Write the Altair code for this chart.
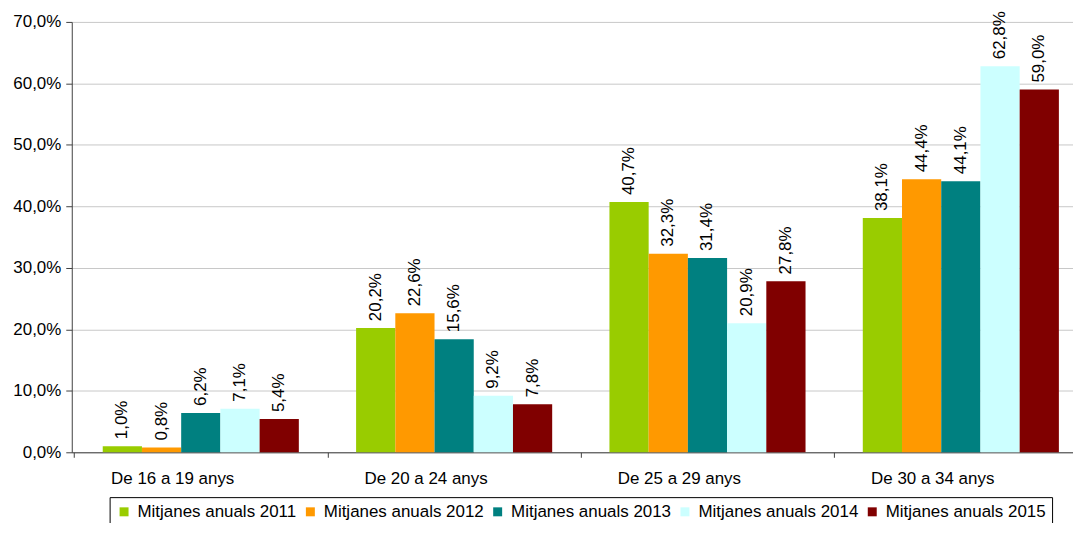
import altair as alt
import pandas as pd

categories = ["De 16 a 19 anys", "De 20 a 24 anys", "De 25 a 29 anys", "De 30 a 34 anys"]
series = ["Mitjanes anuals 2011", "Mitjanes anuals 2012", "Mitjanes anuals 2013",
          "Mitjanes anuals 2014", "Mitjanes anuals 2015"]
colors = ["#99CC00", "#FF9900", "#008080", "#CCFFFF", "#800000"]

# bar heights as drawn (percent)
v2011 = [1.0, 20.2, 40.7, 38.1]
v2012 = [0.8, 22.6, 32.3, 44.4]
v2013 = [6.4, 18.4, 31.6, 44.1]
v2014 = [7.1, 9.2, 21.0, 62.8]
v2015 = [5.4, 7.8, 27.8, 59.0]

# printed labels
l2011 = ["1,0%", "20,2%", "40,7%", "38,1%"]
l2012 = ["0,8%", "22,6%", "32,3%", "44,4%"]
l2013 = ["6,2%", "15,6%", "31,4%", "44,1%"]
l2014 = ["7,1%", "9,2%", "20,9%", "62,8%"]
l2015 = ["5,4%", "7,8%", "27,8%", "59,0%"]

vals = [v2011, v2012, v2013, v2014, v2015]
labs = [l2011, l2012, l2013, l2014, l2015]
rows = []
for s, vs, ls in zip(series, vals, labs):
    for c, v, l in zip(categories, vs, ls):
        rows.append({"cat": c, "serie": s, "val": v, "lab": l})
df = pd.DataFrame(rows)

FONT = "Liberation Sans"
FS = 17

x = alt.X("cat:N", sort=categories, title=None,
          scale=alt.Scale(paddingInner=0.226, paddingOuter=0.089, align=0.687),
          axis=alt.Axis(labelAngle=0, labelFontSize=FS, labelFont=FONT, labelColor="#000000",
                        domainColor="#404040", tickColor="#404040", tickSize=5,
                        bandPosition=0, tickOffset=-28.7, labelPadding=13, grid=False))
xo = alt.XOffset("serie:N", sort=series, scale=alt.Scale(paddingInner=0, paddingOuter=0))
y = alt.Y("val:Q", title=None, scale=alt.Scale(domain=[0, 70], nice=False),
          axis=alt.Axis(values=[0, 10, 20, 30, 40, 50, 60, 70],
                        labelExpr="replace(format(datum.value, '.1f'), '.', ',') + '%'",
                        labelFontSize=FS, labelFont=FONT, labelColor="#000000",
                        domainColor="#404040", tickColor="#404040", tickSize=6,
                        labelPadding=5, gridColor="#C8C8C8"))

bars = alt.Chart(df).mark_bar().encode(
    x=x, xOffset=xo, y=y,
    color=alt.Color("serie:N", sort=series,
                    scale=alt.Scale(domain=series, range=colors),
                    legend=alt.Legend(title=None, orient="none", legendX=38, legendY=477,
                                      direction="horizontal", symbolType="square",
                                      symbolSize=81, symbolStrokeWidth=0,
                                      labelFontSize=FS, labelFont=FONT, labelColor="#000000",
                                      labelLimit=400, labelOffset=5, columnPadding=5,
                                      padding=6, strokeColor="#000000")),
)

texts = alt.Chart(df).mark_text(angle=270, align="left", baseline="middle", dx=7,
                                fontSize=FS, font=FONT, color="#000000").encode(
    x=x, xOffset=xo, y=y, text="lab:N")

chart = alt.layer(bars, texts).properties(
    width=1005, height=432,
    autosize=alt.AutoSizeParams(type="none"),
    padding={"left": 64, "top": 13, "right": 0, "bottom": 70},
).configure_view(stroke=None)

chart.save("out.html", embed_options={"renderer": "svg", "actions": False})
